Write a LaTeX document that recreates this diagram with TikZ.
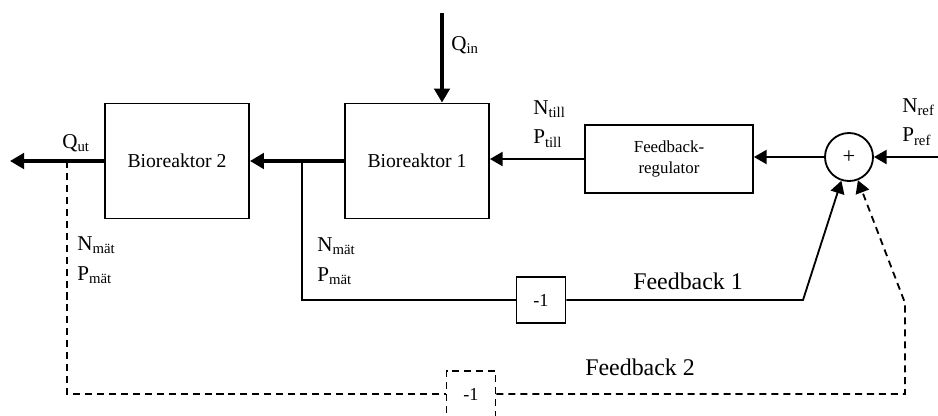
\documentclass[tikz,border=0pt]{standalone}
\usepackage{fontspec}
\setmainfont{Liberation Serif}
\usetikzlibrary{arrows.meta}
\begin{document}
\begin{tikzpicture}[x=0.025cm,y=-0.025cm,
	block/.style={draw,line width=1.3pt,minimum width=3.6cm,minimum height=2.875cm,font=\fontsize{14}{17}\selectfont},
	gain/.style={draw,line width=1.3pt,minimum width=1.225cm,minimum height=1.15cm,font=\fontsize{13}{15}\selectfont},
	lbl/.style={anchor=west,align=left,inner sep=0pt,font=\fontsize{15}{21}\selectfont},
	fblbl/.style={anchor=west,inner sep=0pt,font=\fontsize{17}{20}\selectfont},
	sig/.style={line width=1.3pt,-{Triangle[length=9pt,width=10pt]}},
	flow/.style={line width=3.5pt,-{Triangle[length=10pt,width=11pt]}},
	meas/.style={line width=1.3pt,dash pattern=on 5pt off 3.5pt}]
	\clip (0,0) rectangle (938,415);
	\node[block] (B2) at (177,161) {Bioreaktor 2};
	\node[block] (B1) at (417,161) {Bioreaktor 1};
	\node[draw,line width=1.3pt,minimum width=4.2cm,minimum height=1.7cm,align=center,font=\fontsize{12}{15}\selectfont] (reg) at (669,159) {Feedback-\\regulator};
	\node[draw,circle,line width=1.3pt,minimum size=1.2cm,inner sep=0pt,font=\fontsize{16}{16}\selectfont] (sum) at (849,157) {+};
	\node[gain] (m1) at (541,300) {-1};
	\node[gain,meas] (m2) at (471,394) {-1};
	
	\coordinate (out) at (10,161);
	\coordinate (qin) at (442,13);
	\coordinate (ref) at (938,157);
	\coordinate (tap1) at (302,161);
	\coordinate (tap2) at (67,161);
	\coordinate (fb1) at (803,300);
	\coordinate (fb2) at (905,303);
	\coordinate (fb2b) at (905,394);
	
	\node[lbl] (qut) at (62,143) {Q\textsubscript{ut}};
	\node[lbl] (qinl) at (451,45) {Q\textsubscript{in}};
	\node[lbl] (till) at (533,124) {N\textsubscript{till}\\P\textsubscript{till}};
	\node[lbl] (nref) at (902,122) {N\textsubscript{ref}\\P\textsubscript{ref}};
	\node[lbl] (mat2) at (77,260) {N\textsubscript{mät}\\P\textsubscript{mät}};
	\node[lbl] (mat1) at (317,261) {N\textsubscript{mät}\\P\textsubscript{mät}};
	\node[fblbl] (fb1lbl) at (633,281) {Feedback 1};
	\node[fblbl] (fb2lbl) at (585,367) {Feedback 2};
	
	\draw[flow] (qin) -- (qin |- B1.north);
	\draw[flow] (B1.west) -- (B2.east);
	\draw[flow] (B2.west) -- (out);
	\draw[sig] (reg.west) -- (B1.east |- reg.west);
	\draw[sig] (sum.west) -- (reg.east |- sum.west);
	\draw[sig] (ref) -- (sum.east);
	\draw[line width=1.3pt] (tap1) |- (m1.west);
	\draw[sig] (m1.east) -- (fb1) -- (sum);
	\draw[meas] (tap2) |- (m2.west);
	\draw[meas,-{Triangle[length=9pt,width=10pt]}] (m2.east) -- (fb2b) -- (fb2) -- (sum);
\end{tikzpicture}
\end{document}
